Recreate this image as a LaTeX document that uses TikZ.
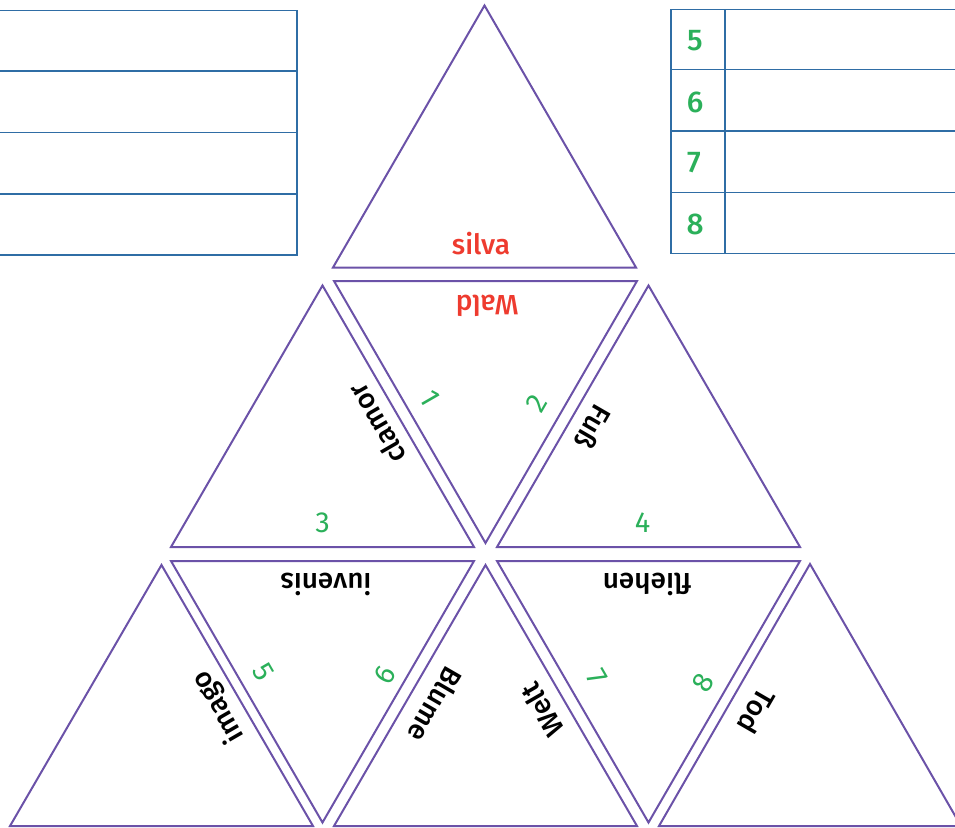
\documentclass[tikz,border=0pt]{standalone}
\usepackage{fontspec}
\setmainfont{Fira Sans}
\newfontfamily\medfont{Fira Sans Medium}

\definecolor{tablinecol}{HTML}{2F6DA5}
\definecolor{tricol}{HTML}{6B52A8}
\definecolor{numcol}{HTML}{2BB05A}
\definecolor{redcol}{HTML}{EE3B2F}

\tikzset{
  tabline/.style={draw=tablinecol, line width=1.4pt},
  tri/.style={draw=tricol, line width=2pt, line join=miter},
  word/.style={inner sep=0pt, font=\medfont\fontsize{28}{30}\selectfont, text=black},
  redword/.style={word, text=redcol},
  num/.style={inner sep=0pt, font=\fontsize{29}{31}\selectfont, text=numcol},
  tabnum/.style={inner sep=0pt, font=\medfont\fontsize{30}{32}\selectfont, text=numcol}
}

\begin{document}
\begin{tikzpicture}[x=1pt, y=-1pt]
\useasboundingbox (0,0) rectangle (955,827);
\clip (0,0) rectangle (955,827);

% left answer table (four empty rows)
\draw[tabline] (-5,10.5) -- (297,10.5) -- (297,255) -- (-5,255);
\foreach \yy in {71,132.5,194} \draw[tabline] (-5,\yy) -- (297,\yy);

% right answer table with numbered rows
\draw[tabline] (965,9.5) -- (671,9.5) -- (671,253.5) -- (965,253.5);
\draw[tabline] (725,9.5) -- (725,253.5);
\foreach \yy in {69.5,131,192.5} \draw[tabline] (671,\yy) -- (965,\yy);
\node[tabnum] (t5) at (695,40.5) {5};
\node[tabnum] (t6) at (695,102.5) {6};
\node[tabnum] (t7) at (694,163) {7};
\node[tabnum] (t8) at (695,224) {8};

% domino triangles
% row 1
\draw[tri] (484.5,5.5) -- (333,267.5) -- (636,267.5) -- cycle;
% row 2
\draw[tri] (334,281) -- (637,281) -- (485.5,543) -- cycle;
\draw[tri] (322.5,285.5) -- (171,547) -- (474,547) -- cycle;
\draw[tri] (648.5,285.5) -- (497,547) -- (800,547) -- cycle;
% row 3
\draw[tri] (161.5,565) -- (10,826) -- (313,826) -- cycle;
\draw[tri] (171,561) -- (474,561) -- (322.5,822.5) -- cycle;
\draw[tri] (485.5,565) -- (334,826) -- (637,826) -- cycle;
\draw[tri] (497,561) -- (800,561) -- (648.5,822.5) -- cycle;
\draw[tri] (810,564) -- (659,826) -- (961,826) -- cycle;

% row 1 labels
\node[redword] (silva) at (481,244) {silva};
% row 2 labels
\node[redword, rotate=180] (wald) at (487,306) {Wald};
\node[word, rotate=120] (clamor) at (377,424) {clamor};
\node[num, rotate=-60] (n1) at (430,398) {1};
\node[num, rotate=60] (n2) at (537,403) {2};
\node[word, rotate=-120] (fuss) at (593,427) {Fuß};
\node[num] (n3) at (322.7,523) {3};
\node[num] (n4) at (642.7,523) {4};
% row 3 labels
\node[word, rotate=180] (iuvenis) at (326,584) {iuvenis};
\node[word, rotate=180] (fliehen) at (647,584) {fliehen};
\node[word, rotate=120] (imago) at (218.5,706.5) {imago};
\node[num, rotate=-60] (n5) at (263,672) {5};
\node[num, rotate=60] (n6) at (385,675) {6};
\node[word, rotate=-120] (blume) at (435.5,705) {Blume};
\node[word, rotate=120] (welt) at (542,710) {Welt};
\node[num, rotate=-60] (n7) at (597,677) {7};
\node[num, rotate=60] (n8) at (703,683) {8};
\node[word, rotate=-120] (tod) at (756.5,711.5) {Tod};
\end{tikzpicture}
\end{document}
